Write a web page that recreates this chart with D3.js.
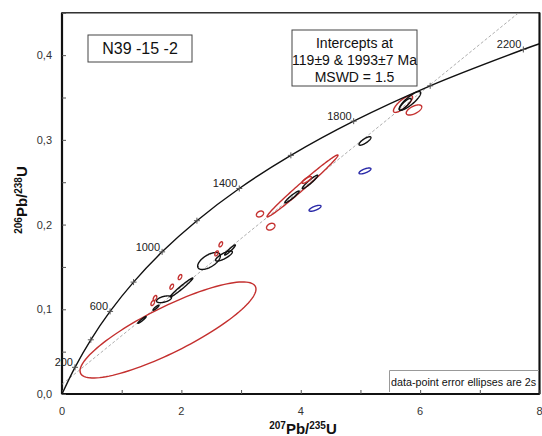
<!DOCTYPE html>
<html><head><meta charset="utf-8">
<script src="https://cdn.jsdelivr.net/npm/d3@7"></script>
<style>body{margin:0;background:#fff}svg{display:block;font-family:Arial,"Liberation Sans",sans-serif}</style>
</head><body><svg id="c" width="542" height="436"></svg>
<script>
// Concordia curve points (age Ma, 207Pb/235U, 206Pb/238U)
const concordiaAges = [0,200,400,600,800,1000,1200,1400,1600,1800,2000,2200,2231];
const concordiaX = [0,0.2177,0.4828,0.8056,1.1987,1.6774,2.2603,2.9701,3.8344,4.8869,6.1685,7.7292,8.0];
const concordiaY = [0,0.0315,0.0640,0.0975,0.1321,0.1678,0.2046,0.2426,0.2817,0.3221,0.3638,0.4067,0.4135];
const labeledAges = [200,600,1000,1400,1800,2200];
// Discordia line end points
const discordiaX = [0, 7.65];
const discordiaY = [0.0115, 0.45];
// Error ellipses: centre, 2s errors, error correlation, colour group
const ellX   = [1.776,4.029,5.713,5.83,5.75,5.897,5.076,3.853,4.155,4.10,3.317,3.497,4.239,5.076,2.463,2.714,2.815,2.66,2.59,1.709,2.002,1.977,1.838,1.558,1.52,1.34,1.575];
const ellY   = [0.0756,0.2456,0.3424,0.346,0.342,0.3353,0.2987,0.2326,0.2503,0.2527,0.2125,0.1975,0.2192,0.2633,0.157,0.1629,0.17,0.1767,0.166,0.1118,0.1257,0.138,0.1267,0.1133,0.1074,0.0874,0.1019];
const ellSX  = [1.474,0.595,0.16,0.18,0.1,0.13,0.1,0.12,0.13,0.08,0.06,0.07,0.1,0.1,0.19,0.14,0.09,0.03,0.03,0.126,0.19,0.03,0.03,0.03,0.03,0.07,0.05];
const ellSY  = [0.0567,0.0366,0.010,0.011,0.007,0.006,0.005,0.007,0.008,0.004,0.0035,0.004,0.0035,0.0035,0.01,0.006,0.006,0.003,0.003,0.004,0.0112,0.003,0.003,0.003,0.003,0.004,0.003];
const ellRho = [0.85,0.99,0.8,0.85,0.85,0.6,0.8,0.95,0.95,0.8,0.3,0.3,0.7,0.7,0.6,0.8,0.95,0.5,0.5,0.5,0.98,0.5,0.5,0.5,0.5,0.95,0.9];
const ellGroup = ["r","r","r","k","k","r","k","k","k","r","r","r","b","b","k","k","k","r","r","k","k","r","r","r","r","k","k"];
const xTicks = [0,2,4,6,8];
const xTickLabels = ["0","2","4","6","8"];
const yTicks = [0,0.1,0.2,0.3,0.4];
const yTickLabels = ["0,0","0,1","0,2","0,3","0,4"];

const colors = {r:"#c4302f", k:"#111", b:"#2a2aa8"};
const svg = d3.select("#c");
const x = d3.scaleLinear().domain([0,8]).range([62,539.5]);
const y = d3.scaleLinear().domain([0,0.45]).range([394,12.8]);

// frame
svg.append("rect").attr("x",x(0)).attr("y",y(0.45)).attr("width",x(8)-x(0)).attr("height",y(0)-y(0.45))
  .attr("fill","none").attr("stroke","#111").attr("stroke-width",1.3);
svg.append("line").attr("x1",x(0)).attr("x2",x(0)).attr("y1",y(0.45)).attr("y2",y(0)).attr("stroke","#111").attr("stroke-width",2.2);
svg.append("line").attr("x1",x(0)).attr("x2",x(8)).attr("y1",y(0)).attr("y2",y(0)).attr("stroke","#111").attr("stroke-width",2.2);
svg.append("line").attr("x1",x(8)).attr("x2",x(8)).attr("y1",y(0.45)).attr("y2",y(0)).attr("stroke","#111").attr("stroke-width",2);

// axis ticks (inward)
const xAxis = d3.axisBottom(x).tickValues(d3.range(0,8.01,1)).tickSize(-4).tickFormat("");
svg.append("g").attr("transform",`translate(0,${y(0)})`).call(xAxis).call(g=>{g.select(".domain").remove();g.selectAll("line").attr("stroke","#555");});
const yAxis = d3.axisLeft(y).tickValues(d3.range(0,0.451,0.05)).tickSize(-4).tickFormat("");
svg.append("g").attr("transform",`translate(${x(0)},0)`).call(yAxis).call(g=>{g.select(".domain").remove();g.selectAll("line").attr("stroke","#555");});

// tick labels
svg.append("g").selectAll("text").data(xTicks).join("text")
  .attr("x",d=>x(d)).attr("y",415).attr("text-anchor","middle").attr("font-size",11).attr("fill","#333")
  .text((d,i)=>xTickLabels[i]);
svg.append("g").selectAll("text").data(yTicks).join("text")
  .attr("x",52).attr("y",d=>y(d)+4).attr("text-anchor","end").attr("font-size",11).attr("fill","#333")
  .text((d,i)=>yTickLabels[i]);

// axis titles
const xt = svg.append("text").attr("x",303).attr("y",434).attr("text-anchor","middle").attr("font-size",15).attr("font-weight","bold").attr("fill","#111");
xt.append("tspan").attr("font-size",10).attr("dy",-5).text("207");
xt.append("tspan").attr("dy",5).text("Pb/");
xt.append("tspan").attr("font-size",10).attr("dy",-5).text("235");
xt.append("tspan").attr("dy",5).text("U");
const yt = svg.append("text").attr("transform","translate(27,200) rotate(-90)").attr("text-anchor","middle").attr("font-size",15).attr("font-weight","bold").attr("fill","#111");
yt.append("tspan").attr("font-size",10).attr("dy",-5).text("206");
yt.append("tspan").attr("dy",5).text("Pb/");
yt.append("tspan").attr("font-size",10).attr("dy",-5).text("238");
yt.append("tspan").attr("dy",5).text("U");

// discordia
svg.append("line").attr("x1",x(discordiaX[0])).attr("y1",y(discordiaY[0])).attr("x2",x(discordiaX[1])).attr("y2",y(discordiaY[1]))
  .attr("stroke","#999").attr("stroke-width",0.8).attr("stroke-dasharray","3,2");

// ellipses
const ang = d3.range(0, 2*Math.PI + 0.001, Math.PI/60);
const ellLine = d3.line().x(p=>x(p[0])).y(p=>y(p[1]));
svg.append("g").selectAll("path").data(ellX.map((d,i)=>i)).join("path")
  .attr("d",i=>ellLine(ang.map(t=>[ellX[i]+ellSX[i]*Math.cos(t), ellY[i]+ellSY[i]*(ellRho[i]*Math.cos(t)+Math.sqrt(1-ellRho[i]*ellRho[i])*Math.sin(t))]))+"Z")
  .attr("fill","none").attr("stroke",i=>colors[ellGroup[i]]).attr("stroke-width",1.4);

// concordia
const cpts = concordiaX.map((d,i)=>[d,concordiaY[i]]);
svg.append("path").attr("d",d3.line().x(p=>x(p[0])).y(p=>y(p[1])).curve(d3.curveCatmullRom)(cpts))
  .attr("fill","none").attr("stroke","#111").attr("stroke-width",1.4);
const tickIdx = concordiaAges.map((a,i)=>i).filter(i=>concordiaAges[i]>0 && concordiaAges[i]%200===0);
const tg = svg.append("g").attr("stroke","#555").attr("stroke-width",1);
tickIdx.forEach(i=>{
  const px=x(concordiaX[i]), py=y(concordiaY[i]);
  tg.append("line").attr("x1",px-3).attr("x2",px+3).attr("y1",py).attr("y2",py);
  tg.append("line").attr("x1",px).attr("x2",px).attr("y1",py-3).attr("y2",py+3);
});
svg.append("g").selectAll("text").data(labeledAges).join("text")
  .attr("x",a=>x(concordiaX[concordiaAges.indexOf(a)])-2)
  .attr("y",a=>y(concordiaY[concordiaAges.indexOf(a)])-1)
  .attr("text-anchor","end").attr("font-size",11).attr("fill","#222").text(a=>a);

// sample label box
svg.append("rect").attr("x",88).attr("y",35).attr("width",104).attr("height",27).attr("fill","#fff").attr("stroke","#444").attr("stroke-width",1);
svg.append("text").attr("x",140).attr("y",54).attr("text-anchor","middle").attr("font-size",16).attr("fill","#111").text("N39 -15 -2");

// intercept box
svg.append("rect").attr("x",292).attr("y",30).attr("width",125).attr("height",56).attr("fill","#fff").attr("stroke","#444").attr("stroke-width",1);
const ib = ["Intercepts at","119±9 & 1993±7 Ma","MSWD = 1.5"];
svg.append("g").selectAll("text").data(ib).join("text")
  .attr("x",354.5).attr("y",(d,i)=>48+i*17).attr("text-anchor","middle").attr("font-size",14).attr("fill","#111").text(d=>d);

// footnote
svg.append("path").attr("d","M389.5,392 V370.5 H539").attr("fill","none").attr("stroke","#999").attr("stroke-width",1);
svg.append("text").attr("x",391).attr("y",385.5).attr("font-size",11).attr("textLength",145).attr("lengthAdjust","spacingAndGlyphs").attr("fill","#111").text("data-point error ellipses are 2s");
</script></body></html>
